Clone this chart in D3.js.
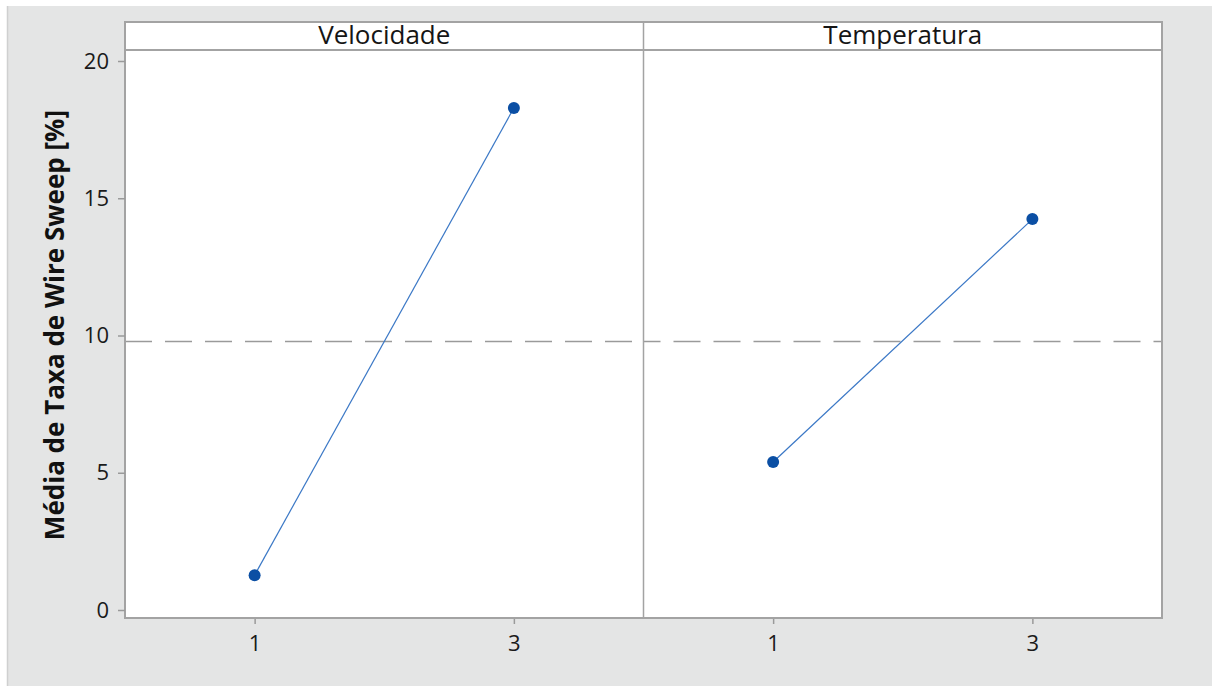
<!DOCTYPE html>
<html><head><meta charset="utf-8">
<script src="https://cdn.jsdelivr.net/npm/d3@7"></script>
<style>body{margin:0;background:#fff}svg{display:block}text{font-family:"Open Sans","Noto Sans",sans-serif}</style>
</head><body><svg id="c" width="1212" height="686"></svg>
<script>
const panels = ["Velocidade", "Temperatura"];
const levels = [1, 3];
const velocidadeMeans = [1.27, 18.29];
const temperaturaMeans = [5.39, 14.24];
const grandMean = 9.78;
const yTicks = [0, 5, 10, 15, 20];
const xTickLabels = ["1", "3"];

const seriesByPanel = [velocidadeMeans, temperaturaMeans];
const svg = d3.select("#c");
svg.append("rect").attr("x",7).attr("y",6).attr("width",1205).attr("height",680).attr("fill","#e4e5e5");
svg.append("line").attr("x1",7.5).attr("x2",7.5).attr("y1",6).attr("y2",686).attr("stroke","#cfd0d0").attr("stroke-width",1.5);

const L=125, R=1162, T=22, SB=50, B=618;
const y = d3.scaleLinear().domain([0,20]).range([610,61]);
const outer = d3.scaleBand().domain(panels).range([L,R]).padding(0);
const pw = outer.bandwidth();
const x = d3.scaleLinear().domain([0,4]).range([0,pw]);

svg.append("rect").attr("x",L).attr("y",T).attr("width",R-L).attr("height",B-T).attr("fill","#fff");

panels.forEach((p,i)=>{
  const g = svg.append("g").attr("transform",`translate(${outer(p)},0)`);
  g.append("text").attr("x",pw/2).attr("y",44).attr("text-anchor","middle")
    .attr("font-size",26).attr("fill","#151515").text(p);
  g.append("line").attr("x1",0).attr("x2",pw).attr("y1",y(grandMean)).attr("y2",y(grandMean))
    .attr("stroke","#9a9a9a").attr("stroke-width",1.5).attr("stroke-dasharray","27,13")
    .attr("stroke-dashoffset", i===0 ? 0 : 10);
  const vals = seriesByPanel[i];
  const pts = levels.map((l,k)=>[x(l), y(vals[k])]);
  g.append("path").attr("d", d3.line()(pts)).attr("fill","none").attr("stroke","#3b78c6").attr("stroke-width",1.2);
  g.selectAll("circle").data(pts).join("circle").attr("cx",d=>d[0]).attr("cy",d=>d[1]).attr("r",6).attr("fill","#0b4fa4");
  const ax = g.append("g").attr("transform",`translate(0,${B})`)
    .call(d3.axisBottom(x).tickValues(levels).tickFormat((d,k)=>xTickLabels[k]).tickSize(6).tickPadding(11));
  ax.select(".domain").remove();
  ax.selectAll("line").attr("stroke","#9a9a9a").attr("stroke-width",1.5);
  ax.selectAll("text").attr("font-size",22).attr("fill","#1a1a1a").style("font-family",'"Open Sans",sans-serif');
});

const stroke="#a3a3a3";
svg.append("rect").attr("x",L).attr("y",T).attr("width",R-L).attr("height",B-T).attr("fill","none").attr("stroke",stroke).attr("stroke-width",2);
svg.append("line").attr("x1",L).attr("x2",R).attr("y1",SB).attr("y2",SB).attr("stroke",stroke).attr("stroke-width",2);
svg.append("line").attr("x1",outer(panels[1])).attr("x2",outer(panels[1])).attr("y1",T).attr("y2",B).attr("stroke",stroke).attr("stroke-width",1.5);

const ay = svg.append("g").attr("transform",`translate(${L},0)`)
  .call(d3.axisLeft(y).tickValues(yTicks).tickSize(7).tickPadding(9));
ay.select(".domain").remove();
ay.selectAll("line").attr("stroke","#9a9a9a").attr("stroke-width",1.5);
ay.selectAll("text").attr("font-size",22).attr("fill","#1a1a1a").style("font-family",'"Open Sans",sans-serif');

svg.append("text").attr("transform","translate(64,325) rotate(-90)").attr("text-anchor","middle")
  .attr("font-size",26).attr("font-weight","bold").attr("fill","#111").text("Média de Taxa de Wire Sweep [%]");
</script></body></html>
